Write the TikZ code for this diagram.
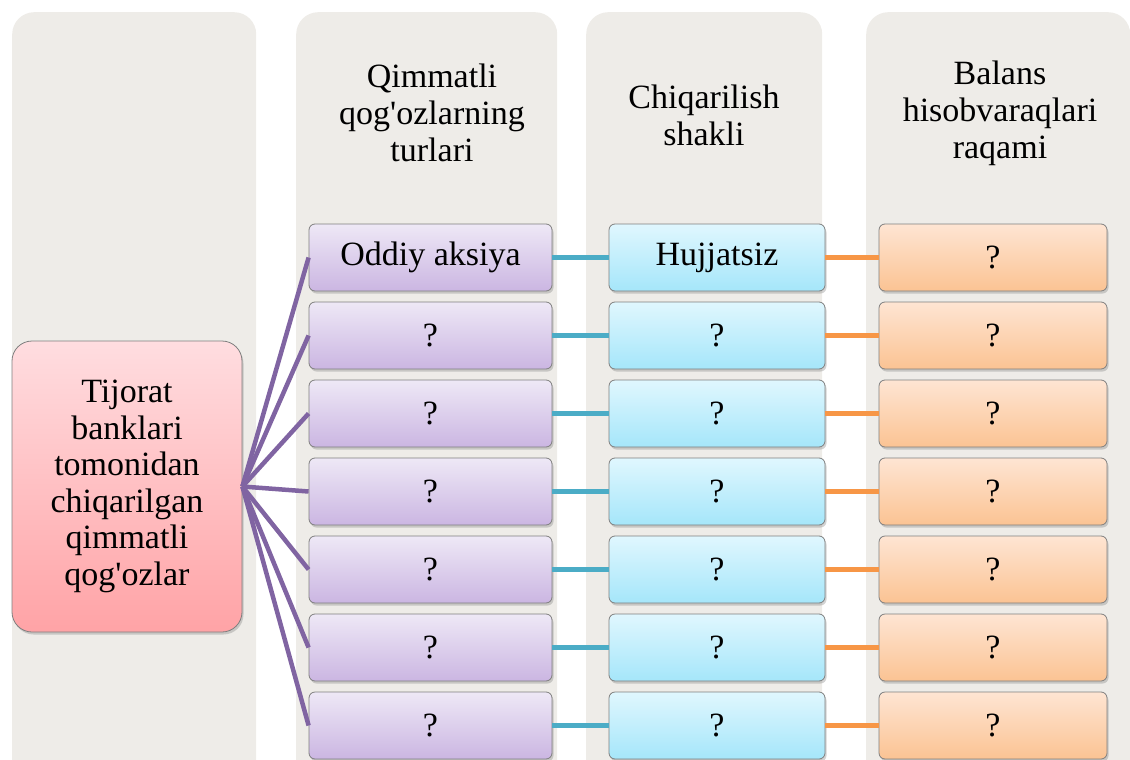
\documentclass[tikz,border=0pt]{standalone}
\usepackage{fontspec}
\setmainfont{Liberation Serif}
\usepackage{tikz}
\usetikzlibrary{positioning,shadows}
\definecolor{lanegray}{HTML}{EEECE8}
\definecolor{rosetop}{HTML}{FFDDE0}
\definecolor{rosebot}{HTML}{FFA3A6}
\definecolor{lilactop}{HTML}{EEE8F6}
\definecolor{lilacbot}{HTML}{CBB6E2}
\definecolor{skytop}{HTML}{E0F7FE}
\definecolor{skybot}{HTML}{A5E6FA}
\definecolor{peachtop}{HTML}{FEE5D3}
\definecolor{peachbot}{HTML}{FBC393}
\definecolor{edgegray}{HTML}{7F7F7F}
\definecolor{lilacline}{HTML}{8064A2}
\definecolor{skyline}{HTML}{4BACC6}
\definecolor{peachline}{HTML}{F79646}
\tikzset{
  lanebox/.style={
    rectangle, rounded corners=22pt, fill=lanegray,
    minimum width=#1, minimum height=800pt,
    anchor=north west, inner sep=0pt
  },
  headnode/.style={
    font=\fontsize{34}{37}\selectfont, align=center, inner sep=0pt
  },
  rowbox/.style={
    rectangle, rounded corners=6pt, draw=edgegray, thick,
    top color=#1top, bottom color=#1bot,
    minimum height=67pt, inner sep=2pt,
    font=\fontsize{34}{37}\selectfont, align=center,
    drop shadow={opacity=0.35, shadow xshift=1.5pt, shadow yshift=-2.5pt}
  },
  typebox/.style={rowbox=lilac, minimum width=243pt},
  formbox/.style={rowbox=sky, minimum width=216pt},
  accbox/.style={rowbox=peach, minimum width=228pt},
  rootbox/.style={
    rectangle, rounded corners=20pt, draw=edgegray, thick,
    top color=rosetop, bottom color=rosebot,
    minimum width=230pt, minimum height=291pt,
    font=\fontsize{34}{36.5}\selectfont, align=center,
    drop shadow={opacity=0.35, shadow xshift=1.5pt, shadow yshift=-2.5pt}
  },
  linkline/.style={line width=#1},
  typelink/.style={linkline=4.5pt, color=lilacline},
  formlink/.style={linkline=5pt, color=skyline},
  acclink/.style={linkline=5pt, color=peachline},
}
\begin{document}
\begin{tikzpicture}[
  x=1pt, y=-1pt,
  node distance=10.2pt and 56.2pt
]
\useasboundingbox (0,0) rectangle (1130,760);
\clip (0,0) rectangle (1130,760);

% background lanes
\node[lanebox=244pt] (lane0) at (12,12) {};
\node[lanebox=261pt] (lane1) at (296,12) {};
\node[lanebox=236pt] (lane2) at (586,12) {};
\node[lanebox=264pt] (lane3) at (866,12) {};

% lane headers
\node[headnode] (head1) at (432,113) {Qimmatli\\qog\textquotesingle ozlarning\\turlari};
\node[headnode] (head2) at (704,115) {Chiqarilish\\shakli};
\node[headnode] (head3) at (1000,113) {Balans\\hisobvaraqlari\\raqami};

% root
\node[rootbox] (root) at (127,486.5) {Tijorat\\banklari\\tomonidan\\chiqarilgan\\qimmatli\\qog\textquotesingle ozlar};

% types of securities
\node[typebox] (type1) at (430.5,257.5) {Oddiy aksiya};
\node[typebox, below=of type1] (type2) {?};
\node[typebox, below=of type2] (type3) {?};
\node[typebox, below=of type3] (type4) {?};
\node[typebox, below=of type4] (type5) {?};
\node[typebox, below=of type5] (type6) {?};
\node[typebox, below=of type6] (type7) {?};

% issue form
\node[formbox, right=of type1] (form1) {Hujjatsiz};
\node[formbox, right=of type2] (form2) {?};
\node[formbox, right=of type3] (form3) {?};
\node[formbox, right=of type4] (form4) {?};
\node[formbox, right=of type5] (form5) {?};
\node[formbox, right=of type6] (form6) {?};
\node[formbox, right=of type7] (form7) {?};

% balance accounts
\node[accbox, right=53.2pt of form1] (acc1) {?};
\node[accbox, right=53.2pt of form2] (acc2) {?};
\node[accbox, right=53.2pt of form3] (acc3) {?};
\node[accbox, right=53.2pt of form4] (acc4) {?};
\node[accbox, right=53.2pt of form5] (acc5) {?};
\node[accbox, right=53.2pt of form6] (acc6) {?};
\node[accbox, right=53.2pt of form7] (acc7) {?};

% fan out from root
\draw[typelink] (root.east) -- (type1.west);
\draw[typelink] (root.east) -- (type2.west);
\draw[typelink] (root.east) -- (type3.west);
\draw[typelink] (root.east) -- (type4.west);
\draw[typelink] (root.east) -- (type5.west);
\draw[typelink] (root.east) -- (type6.west);
\draw[typelink] (root.east) -- (type7.west);

% type -> form
\draw[formlink] (type1) -- (form1);
\draw[formlink] (type2) -- (form2);
\draw[formlink] (type3) -- (form3);
\draw[formlink] (type4) -- (form4);
\draw[formlink] (type5) -- (form5);
\draw[formlink] (type6) -- (form6);
\draw[formlink] (type7) -- (form7);

% form -> account
\draw[acclink] (form1) -- (acc1);
\draw[acclink] (form2) -- (acc2);
\draw[acclink] (form3) -- (acc3);
\draw[acclink] (form4) -- (acc4);
\draw[acclink] (form5) -- (acc5);
\draw[acclink] (form6) -- (acc6);
\draw[acclink] (form7) -- (acc7);

\end{tikzpicture}
\end{document}
